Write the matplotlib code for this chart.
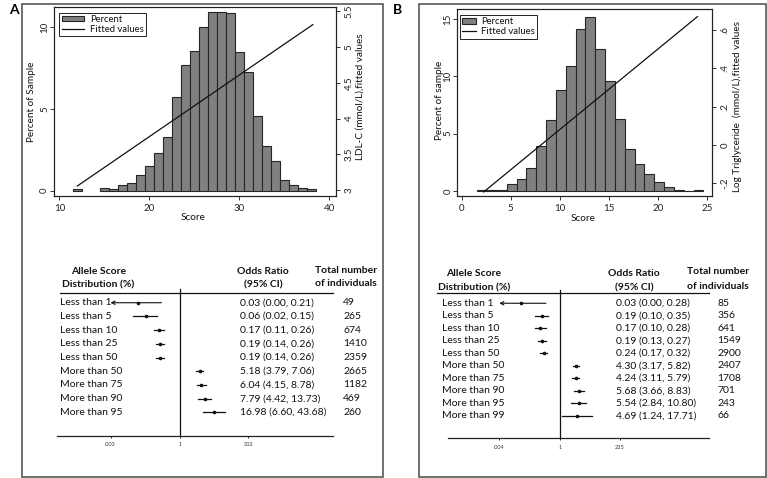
import numpy as np
import matplotlib
matplotlib.use('Agg')
import matplotlib.pyplot as plt
from matplotlib.patches import Patch, Rectangle
from matplotlib.lines import Line2D
from matplotlib.transforms import blended_transform_factory

plt.rcParams['font.family'] = ['Lato', 'DejaVu Sans']

W, H = 767, 478

# ---------------- Panel A histogram data ----------------
A_bin_start = 11.55
A_bin_width = 1.0
A_pct = [0.08, 0, 0, 0.14, 0.10, 0.37, 0.47, 0.98, 1.49, 2.33, 3.29, 5.73, 7.67,
         8.57, 10.02, 10.92, 10.96, 10.86, 8.47, 7.24, 4.60, 2.72, 1.80, 0.67,
         0.33, 0.18, 0.08]
A_fit_x = [12.0, 38.2]
A_fit_y = [3.06, 5.31]
A_xticks = [10, 20, 30, 40]
A_yticks = [0, 5, 10]
A_rticks = [3, 3.5, 4, 4.5, 5, 5.5]
A_rticklabels = ['3', '3.5', '4', '4.5', '5', '5.5']

# ---------------- Panel B histogram data ----------------
B_bin_start = 1.6
B_bin_width = 1.0
B_pct = [0.05, 0.06, 0.06, 0.58, 1.02, 1.98, 3.90, 6.19, 8.80, 10.93, 14.16,
         15.20, 12.35, 9.59, 6.31, 3.63, 2.35, 1.48, 0.81, 0.38, 0.09, 0.03, 0.06]
B_fit_x = [2.25, 24.0]
B_fit_y = [-0.245, 0.67]
B_xticks = [0, 5, 10, 15, 20, 25]
B_yticks = [0, 5, 10, 15]
B_rticks = [-0.2, 0, 0.2, 0.4, 0.6]
B_rticklabels = ['-.2', '0', '.2', '.4', '.6']

# ---------------- Forest plot data ----------------
A_groups = ['Less than 1', 'Less than 5', 'Less than 10', 'Less than 25', 'Less than 50',
            'More than 50', 'More than 75', 'More than 90', 'More than 95']
A_or = [0.03, 0.06, 0.17, 0.19, 0.19, 5.18, 6.04, 7.79, 16.98]
A_lo = [0.00, 0.02, 0.11, 0.14, 0.14, 3.79, 4.15, 4.42, 6.60]
A_hi = [0.21, 0.15, 0.26, 0.26, 0.26, 7.06, 8.78, 13.73, 43.68]
A_n = [49, 265, 674, 1410, 2359, 2665, 1182, 469, 260]
A_fticks = [0.003, 1, 302]
A_fticklabels = ['.003', '1', '302']

B_groups = ['Less than 1', 'Less than 5', 'Less than 10', 'Less than 25', 'Less than 50',
            'More than 50', 'More than 75', 'More than 90', 'More than 95', 'More than 99']
B_or = [0.03, 0.19, 0.17, 0.19, 0.24, 4.30, 4.24, 5.68, 5.54, 4.69]
B_lo = [0.00, 0.10, 0.10, 0.13, 0.17, 3.17, 3.11, 3.66, 2.84, 1.24]
B_hi = [0.28, 0.35, 0.28, 0.27, 0.32, 5.82, 5.79, 8.83, 10.80, 17.71]
B_n = [85, 356, 641, 1549, 2900, 2407, 1708, 701, 243, 66]
B_fticks = [0.004, 1, 235]
B_fticklabels = ['.004', '1', '235']

fig = plt.figure(figsize=(W / 100, H / 100), dpi=100)


def ax_px(x0, y0, x1, y1):
    return fig.add_axes([x0 / W, 1 - y1 / H, (x1 - x0) / W, (y1 - y0) / H])


def ftext(x, y, s, **kw):
    fig.text(x / W, 1 - y / H, s, **kw)


# panel borders
for (x0, y0, x1, y1) in [(21.7, 4, 382.7, 477), (419, 4, 765.5, 477)]:
    fig.patches.append(Rectangle((x0 / W, 1 - y1 / H), (x1 - x0) / W, (y1 - y0) / H,
                                 transform=fig.transFigure, fill=False,
                                 edgecolor='#4a4a4a', linewidth=1.1))

ftext(14, 10, 'A', fontsize=10, fontweight='bold', ha='center', va='center')
ftext(398, 10, 'B', fontsize=10, fontweight='bold', ha='center', va='center')

TICK_C = '#222222'
LAB_C = '#111111'


def hist_panel(frame, bin_start, bin_w, pct, xlim, ylim, fit_x, fit_y, rlim,
               xticks, yticks, rticks, rticklabels, leg_anchor, hl):
    ax = ax_px(*frame)
    pct = np.asarray(pct, dtype=float)
    edges = bin_start + bin_w * np.arange(len(pct))
    m = pct > 0
    ax.bar(edges[m], pct[m], width=bin_w, align='edge', color='#808080',
           edgecolor='#262626', linewidth=0.8, zorder=2)
    ax.set_xlim(xlim)
    ax.set_ylim(ylim)
    ax.set_xticks(xticks)
    ax.set_yticks(yticks)
    ax2 = ax.twinx()
    ax2.plot(fit_x, fit_y, color='#111111', lw=0.9)
    ax2.set_ylim(rlim)
    ax2.set_yticks(rticks)
    ax2.set_yticklabels(rticklabels)
    for a in (ax, ax2):
        for s in a.spines.values():
            s.set_linewidth(0.8)
            s.set_color('#222222')
        a.tick_params(length=3, width=0.7, color='#333333', labelsize=7,
                      labelcolor=TICK_C)
    ax.tick_params(axis='y', pad=0.5)
    ax.tick_params(axis='x', pad=3)
    ax2.tick_params(axis='y', pad=3)
    for lbl in ax.get_yticklabels():
        lbl.set_rotation(90)
        lbl.set_va('center')
    for lbl in ax2.get_yticklabels():
        lbl.set_rotation(90)
        lbl.set_va('center')
    handles = [Patch(facecolor='#808080', edgecolor='#262626', linewidth=0.8),
               Line2D([], [], color='#111111', lw=0.9)]
    leg = ax2.legend(handles, ['Percent', 'Fitted values'], loc='upper left',
                     bbox_to_anchor=leg_anchor, borderaxespad=0, fancybox=False,
                     framealpha=1, edgecolor='#222222', fontsize=6.8,
                     handlelength=hl, handleheight=0.5, labelspacing=0.1,
                     borderpad=0.25, handletextpad=0.6)
    for t in leg.get_texts():
        t.set_color(LAB_C)
    leg.get_frame().set_linewidth(0.7)
    return ax


hist_panel((54, 6.7, 336, 195.7), A_bin_start, A_bin_width, A_pct,
           (9.41, 40.78), (-0.306, 11.26), A_fit_x, A_fit_y, (2.925, 5.56),
           A_xticks, A_yticks, A_rticks, A_rticklabels, (0.019, 0.968), 2.4)
ftext(31.7, 101.7, 'Percent of Sample', rotation=90, ha='center', va='center', fontsize=7.2, color=LAB_C)
ftext(193.3, 217, 'Score', ha='center', va='center', fontsize=7.2, color=LAB_C)
ftext(360, 96.7, 'LDL-C (mmol/L),fitted values', rotation=90, ha='center', va='center', fontsize=7.2, color=LAB_C)

hist_panel((457.3, 9, 712.3, 195.7), B_bin_start, B_bin_width, B_pct,
           (-0.43, 25.51), (-0.41, 15.87), B_fit_x, B_fit_y, (-0.2645, 0.7096),
           B_xticks, B_yticks, B_rticks, B_rticklabels, (0.011, 0.968), 1.4)
ftext(439.5, 100.7, 'Percent of sample', rotation=90, ha='center', va='center', fontsize=7.2, color=LAB_C)
ftext(583, 218.3, 'Score', ha='center', va='center', fontsize=7.2, color=LAB_C)
ftext(737, 106, 'Log Triglyceride  (mmol/L),fitted values', rotation=90, ha='center', va='center', fontsize=7.2, color=LAB_C)

TXT_C = '#111111'


def forest(frame, xlim, ylim, groups, orv, lo, hi, n, fticks, fticklabels,
           xs, hdr_rows, vline_top, hline_x):
    ax = ax_px(*frame)
    ax.set_xscale('log')
    ax.set_xlim(xlim)
    ax.set_ylim(ylim)
    for s in ('top', 'left', 'right'):
        ax.spines[s].set_visible(False)
    ax.spines['bottom'].set_linewidth(0.9)
    ax.spines['bottom'].set_color('#222222')
    ax.set_yticks([])
    ax.set_xticks(fticks)
    ax.set_xticklabels(fticklabels)
    ax.xaxis.set_minor_locator(matplotlib.ticker.NullLocator())
    ax.tick_params(axis='x', length=1.5, width=0.6, labelsize=4, pad=3, labelcolor='#333333')
    ax.patch.set_alpha(0)
    tr = blended_transform_factory(ax.transAxes, ax.transData)
    ax.plot([1, 1], [vline_top, ylim[0]], color='#111111', lw=0.9, clip_on=False)
    ax.plot(hline_x, [hdr_rows[2]] * 2, color='#111111', lw=0.9, transform=tr, clip_on=False)
    tmin = fticks[0]
    for i in range(len(groups)):
        if lo[i] < tmin:
            ax.annotate('', xy=(tmin, i), xytext=(hi[i], i),
                        arrowprops=dict(arrowstyle='->', lw=0.8, color='#111111',
                                        shrinkA=0, shrinkB=0, mutation_scale=6))
        else:
            ax.plot([lo[i], hi[i]], [i, i], color='#111111', lw=0.9)
        ax.plot([orv[i]], [i], marker='o', ms=1.6, color='#111111')
        ax.text(xs['lab'], i, groups[i], transform=tr, ha='left', va='center',
                fontsize=7.5, color=TXT_C, clip_on=False)
        ax.text(xs['or'], i, f'{orv[i]:.2f} ({lo[i]:.2f}, {hi[i]:.2f})', transform=tr,
                ha='left', va='center', fontsize=7.5, color=TXT_C, clip_on=False)
        ax.text(xs['n'], i, f'{n[i]}', transform=tr, ha='left', va='center',
                fontsize=7.5, color=TXT_C, clip_on=False)
    kw = dict(transform=tr, va='center', fontsize=7.5, fontweight='bold', color=TXT_C, clip_on=False)
    ax.text(xs['h1'], hdr_rows[0], 'Allele Score', ha='center', **kw)
    ax.text(xs['h1'], hdr_rows[1], 'Distribution (%)', ha='center', **kw)
    ax.text(xs['h2'], hdr_rows[0], 'Odds Ratio', ha='center', **kw)
    ax.text(xs['h2'], hdr_rows[1], '(95% CI)', ha='center', **kw)
    ax.text(xs['h3'], hdr_rows[0] - 0.12, 'Total number', ha='right', **kw)
    ax.text(xs['h3'], hdr_rows[1] - 0.12, 'of individuals', ha='right', **kw)


forest((57.3, 260, 333.3, 436), (np.exp(-10.26), np.exp(12.82)), (9.73, -3.12),
       A_groups, A_or, A_lo, A_hi, A_n, A_fticks, A_fticklabels,
       {'lab': 0.0098, 'or': 0.662, 'n': 1.036, 'h1': 0.148, 'h2': 0.746, 'h3': 1.157},
       (-2.26, -1.29, -0.69), -0.98, [0.0098, 1.0])

forest((448, 260, 709, 438.3), (np.exp(-10.18), np.exp(13.545)), (10.8, -3.46),
       B_groups, B_or, B_lo, B_hi, B_n, B_fticks, B_fticklabels,
       {'lab': -0.022, 'or': 0.645, 'n': 1.032, 'h1': 0.10, 'h2': 0.714, 'h3': 1.153},
       (-2.4, -1.25, -0.8), -1.06, [-0.041, 1.0])

fig.savefig('out.png', dpi=100)
